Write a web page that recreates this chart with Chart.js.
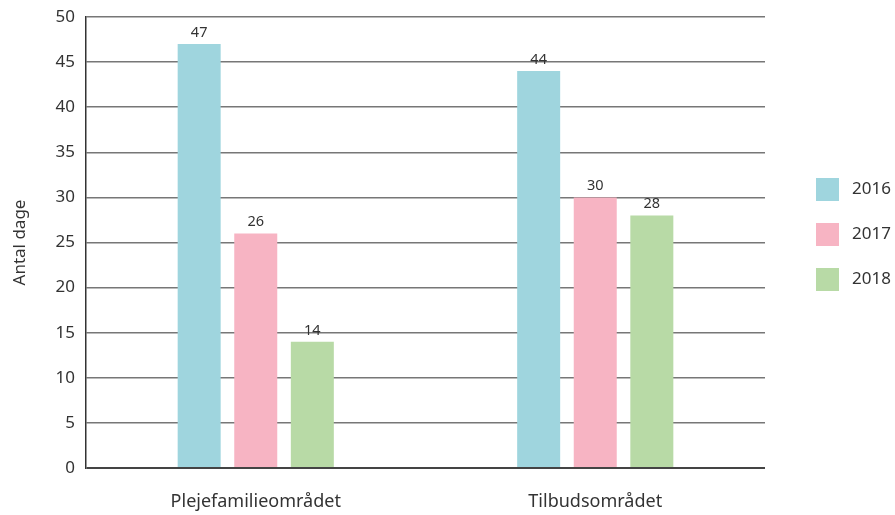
<!DOCTYPE html>
<html>
<head>
<meta charset="utf-8">
<script src="https://cdn.jsdelivr.net/npm/chart.js@4/dist/chart.umd.min.js"></script>
<style>
	html, body { margin: 0; padding: 0; background: #fff; }
	#wrap { width: 895px; height: 515px; position: relative; }
</style>
</head>
<body>
<div id="wrap"><canvas id="chart"></canvas></div>
<script>
'use strict';

// Data
const categories = ['Plejefamilieområdet', 'Tilbudsområdet'];
const years = ['2016', '2017', '2018'];
const values2016 = [47, 44];
const values2017 = [26, 30];
const values2018 = [14, 28];
const yTicks = [0, 5, 10, 15, 20, 25, 30, 35, 40, 45, 50];

const colors = ['#9fd5de', '#f7b4c3', '#b8daa6'];
const fontFamily = '"Noto Sans", "Open Sans", sans-serif';

// Value labels above each bar
const valueLabels = {
	id: 'valueLabels',
	afterDatasetsDraw(chart) {
		const ctx = chart.ctx;
		ctx.save();
		ctx.font = '14.5px ' + fontFamily;
		ctx.fillStyle = '#333';
		ctx.textAlign = 'center';
		ctx.textBaseline = 'bottom';
		chart.data.datasets.forEach(function(ds, i) {
			chart.getDatasetMeta(i).data.forEach(function(bar, j) {
				ctx.fillText(ds.data[j], bar.x, bar.y - 4);
			});
		});
		ctx.restore();
	}
};

// Legend on the right, square boxes stacked vertically
const sideLegend = {
	id: 'sideLegend',
	afterDraw(chart) {
		const ctx = chart.ctx;
		const area = chart.chartArea;
		const box = 23, step = 45;
		const x = area.right + 51;
		const midY = (area.top + area.bottom) / 2 - 8;
		const n = chart.data.datasets.length;
		ctx.save();
		ctx.font = '17px ' + fontFamily;
		ctx.textBaseline = 'middle';
		chart.data.datasets.forEach(function(ds, i) {
			const cy = midY + (i - (n - 1) / 2) * step;
			ctx.fillStyle = ds.backgroundColor;
			ctx.fillRect(x, cy - box / 2, box, box);
			ctx.fillStyle = '#333';
			ctx.fillText(ds.label, x + box + 13, cy);
		});
		ctx.restore();
	}
};

const ctx = document.getElementById('chart').getContext('2d');
new Chart(ctx, {
	type: 'bar',
	data: {
		labels: categories,
		datasets: [
			{ label: years[0], data: values2016, backgroundColor: colors[0] },
			{ label: years[1], data: values2017, backgroundColor: colors[1] },
			{ label: years[2], data: values2018, backgroundColor: colors[2] }
		]
	},
	options: {
		responsive: true,
		maintainAspectRatio: false,
		animation: false,
		categoryPercentage: 0.5,
		barPercentage: 0.76,
		layout: { padding: { top: 17, right: 130, bottom: 0, left: 10 } },
		plugins: {
			legend: { display: false },
			tooltip: { enabled: false }
		},
		scales: {
			x: {
				afterFit: function(scale) { scale.height = 47; },
				grid: { display: false, drawTicks: false },
				border: { display: false },
				ticks: {
					color: '#333',
					padding: 23,
					font: { family: fontFamily, size: 18 }
				}
			},
			y: {
				min: 0,
				max: 50,
				afterBuildTicks: function(scale) {
					scale.ticks = yTicks.map(function(v) { return { value: v }; });
				},
				afterFit: function(scale) {
					scale.width = 76;
					scale.paddingTop = 0;
					scale.paddingBottom = 0;
				},
				grid: {
					color: function(c) { return c.tick && c.tick.value === 0 ? '#444' : '#777'; },
					lineWidth: function(c) { return c.tick && c.tick.value === 0 ? 2 : 1.5; },
					drawTicks: false
				},
				border: { display: true, color: '#333', width: 1.5 },
				ticks: {
					color: '#333',
					padding: 11,
					font: { family: fontFamily, size: 17 }
				},
				title: {
					display: true,
					text: 'Antal dage',
					color: '#333',
					padding: { top: 0, bottom: 0 },
					font: { family: fontFamily, size: 17 }
				}
			}
		}
	},
	plugins: [valueLabels, sideLegend]
});
</script>
</body>
</html>
